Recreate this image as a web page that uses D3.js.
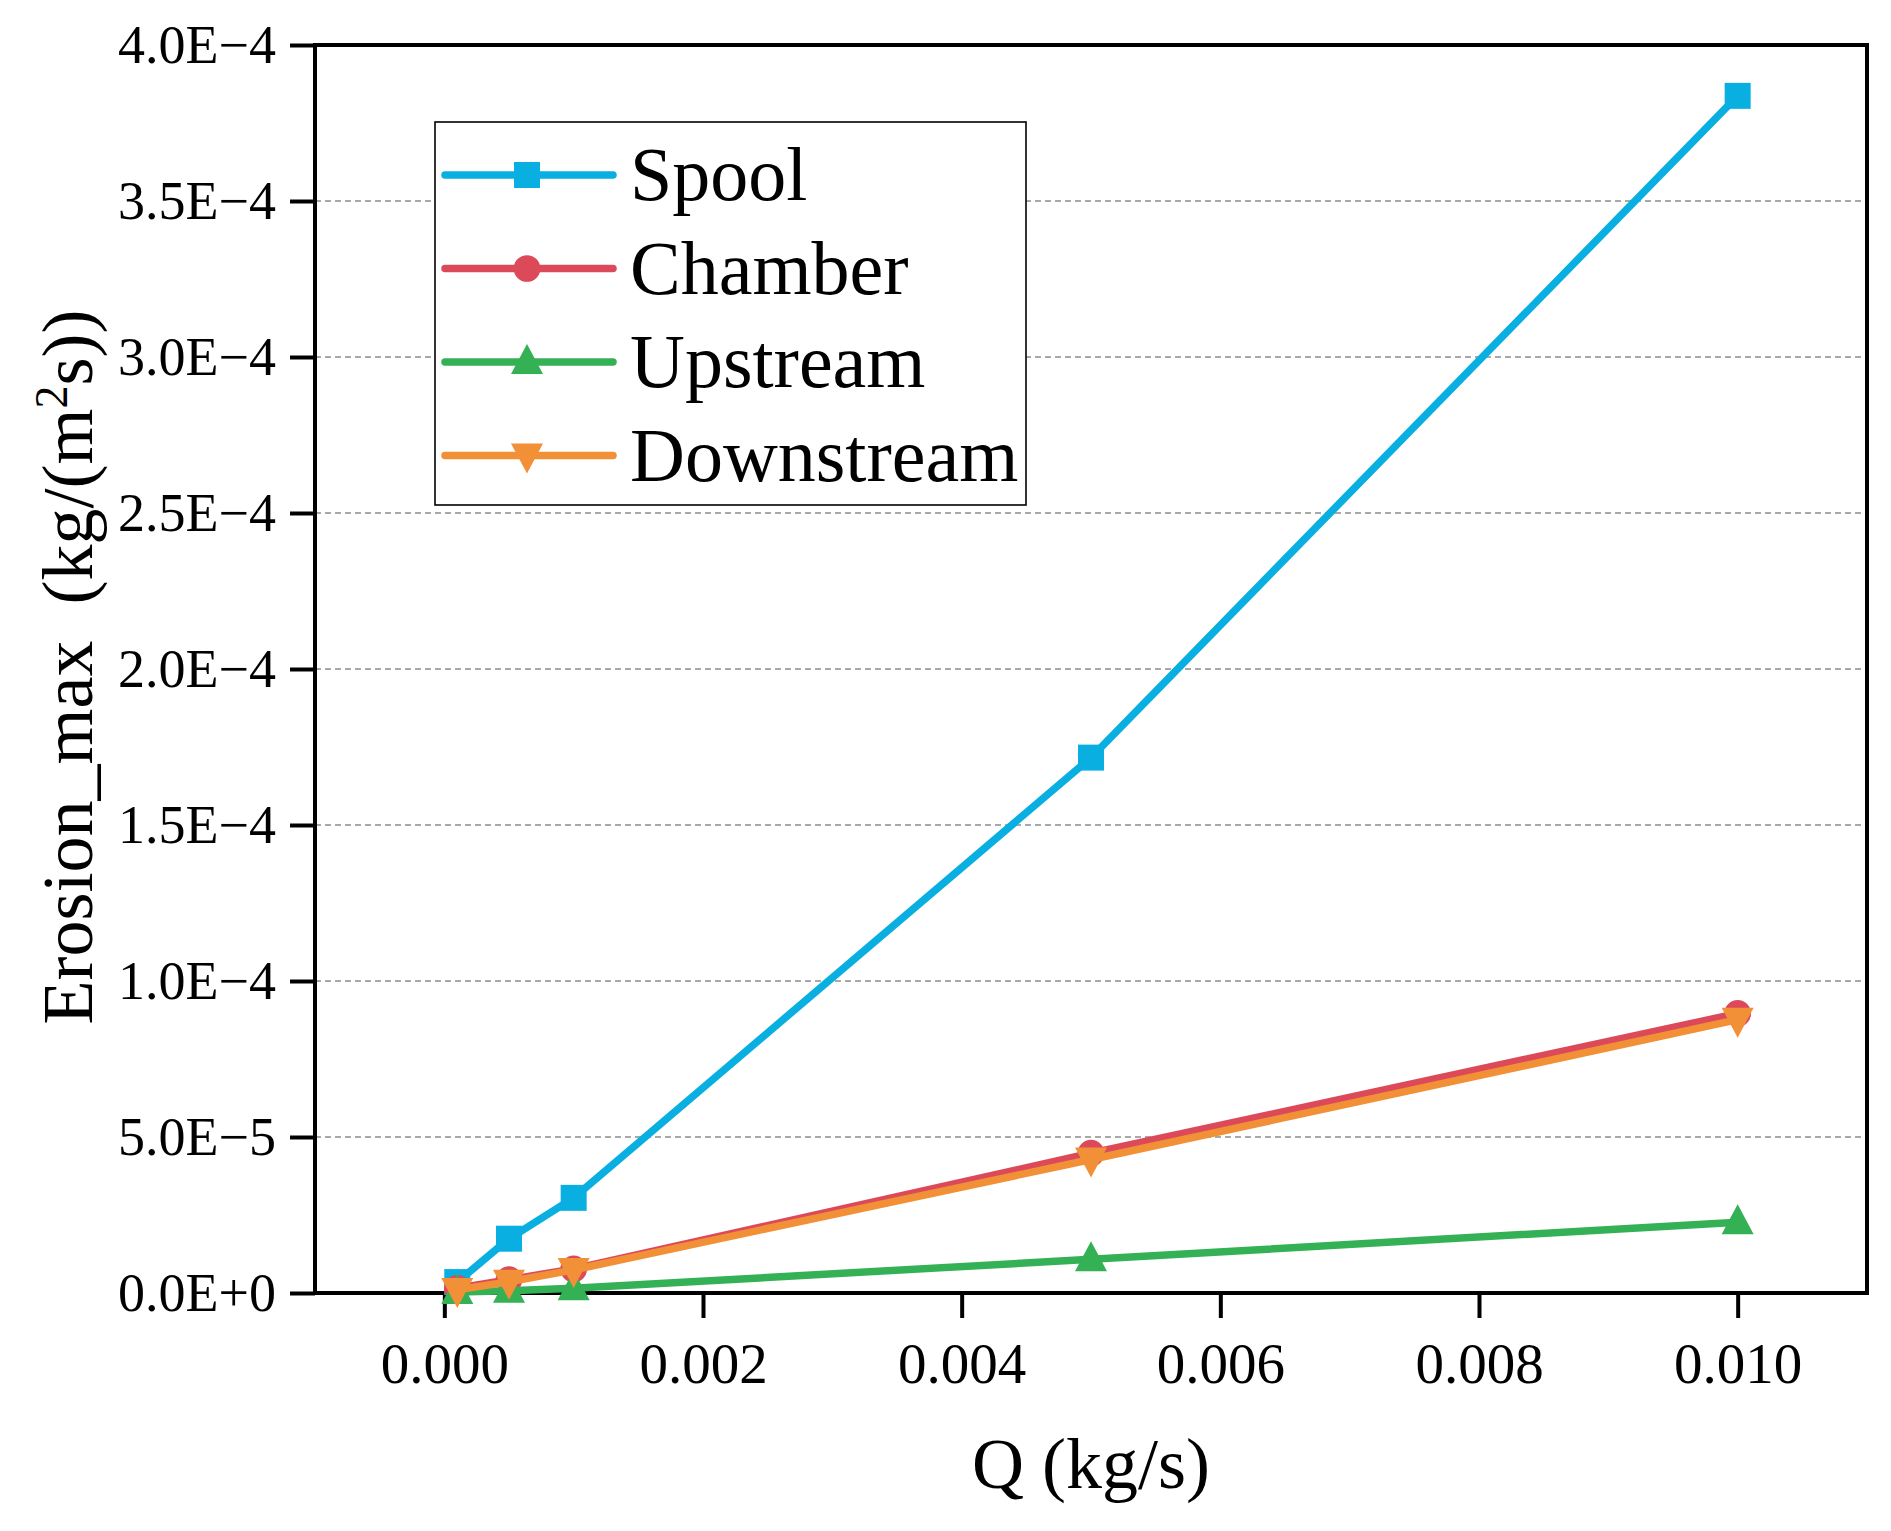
<!DOCTYPE html>
<html>
<head>
<meta charset="utf-8">
<script src="https://cdn.jsdelivr.net/npm/d3@7"></script>
<style>
  body { margin: 0; background: #fff; }
  svg { display: block; font-family: "Liberation Serif", "Times New Roman", serif; }
</style>
</head>
<body>
<div id="container"></div>
<script>
// data
const flows = [0.0001, 0.0005, 0.001, 0.005, 0.01]
const spool = [3.5e-6, 1.74e-5, 3.05e-5, 1.716e-4, 3.837e-4]
const chamber = [1.5e-6, 4.3e-6, 7.7e-6, 4.48e-5, 8.96e-5]
const upstream = [3e-7, 7e-7, 1.5e-6, 1.08e-5, 2.27e-5]
const downstream = [1.0e-6, 3.6e-6, 7.4e-6, 4.28e-5, 8.76e-5]
const seriesNames = ["Spool", "Chamber", "Upstream", "Downstream"]
const xTicks = [0, 0.002, 0.004, 0.006, 0.008, 0.01]
const yTicks = [0, 5e-5, 1e-4, 1.5e-4, 2e-4, 2.5e-4, 3e-4, 3.5e-4, 4e-4]
const yTickLabels = ["0.0E+0", "5.0E\u22125", "1.0E\u22124", "1.5E\u22124", "2.0E\u22124",
                     "2.5E\u22124", "3.0E\u22124", "3.5E\u22124", "4.0E\u22124"]

const colors = ["#0aafe1", "#dc4a5a", "#35b155", "#f19036"]
const markers = ["square", "circle", "up", "down"]
const serif = "'Liberation Serif', 'Times New Roman', serif"

main()

function main() {
    const width = 1891
    const height = 1531
    const marginTop = 45
    const marginRight = 24
    const marginBottom = 238
    const marginLeft = 315

    const x = d3.scaleLinear()
        .domain([-0.001, 0.011])
        .range([marginLeft, width - marginRight])

    const y = d3.scaleLinear()
        .domain([0, 4e-4])
        .range([height - marginBottom, marginTop])

    const svg = d3.create("svg")
        .attr("width", width)
        .attr("height", height)

    svg.append("rect")
        .attr("width", width)
        .attr("height", height)
        .attr("fill", "#fff")

    // dashed grid lines
    svg.append("g")
        .selectAll("line")
        .data(yTicks.filter(d => d > 0 && d < 4e-4))
        .join("line")
        .attr("x1", marginLeft)
        .attr("x2", width - marginRight)
        .attr("y1", d => y(d))
        .attr("y2", d => y(d))
        .attr("stroke", "#8c8c8c")
        .attr("stroke-width", 1.6)
        .attr("stroke-dasharray", "6,4")

    // axes
    const xAxis = svg.append("g")
        .attr("transform", `translate(0,${height - marginBottom})`)
        .call(d3.axisBottom(x).tickValues(xTicks).tickFormat(d3.format(".3f")).tickSize(25).tickPadding(25))
    xAxis.attr("font-family", serif)
    xAxis.select(".domain").remove()
    xAxis.selectAll(".tick line").attr("stroke", "#000").attr("stroke-width", 4)
    xAxis.selectAll(".tick text")
        .attr("fill", "#000")
        .style("font-size", "57px")

    const yAxis = svg.append("g")
        .attr("transform", `translate(${marginLeft},0)`)
        .call(d3.axisLeft(y).tickValues(yTicks).tickFormat((d, i) => yTickLabels[i]).tickSize(25).tickPadding(14))
    yAxis.attr("font-family", serif)
    yAxis.select(".domain").remove()
    yAxis.selectAll(".tick line").attr("stroke", "#000").attr("stroke-width", 4)
    yAxis.selectAll(".tick text")
        .attr("fill", "#000")
        .style("font-size", "54px")

    // frame
    svg.append("rect")
        .attr("x", marginLeft)
        .attr("y", marginTop)
        .attr("width", width - marginLeft - marginRight)
        .attr("height", height - marginTop - marginBottom)
        .attr("fill", "none")
        .attr("stroke", "#000")
        .attr("stroke-width", 4)

    const allSeries = [spool, chamber, upstream, downstream]
    const line = d3.line()
        .x((d, i) => x(flows[i]))
        .y(d => y(d))

    allSeries.forEach((values, k) => {
        const g = svg.append("g")
        g.append("path")
            .datum(values)
            .attr("d", line)
            .attr("fill", "none")
            .attr("stroke", colors[k])
            .attr("stroke-width", 7.5)
            .attr("stroke-linejoin", "round")
        g.selectAll("path.marker")
            .data(values)
            .join("path")
            .attr("class", "marker")
            .attr("d", markerPath(markers[k]))
            .attr("transform", (d, i) => `translate(${x(flows[i])},${y(d)})`)
            .attr("fill", colors[k])
    })

    // legend
    const legend = svg.append("g")
    legend.append("rect")
        .attr("x", 435)
        .attr("y", 122)
        .attr("width", 591)
        .attr("height", 383)
        .attr("fill", "#fff")
        .attr("stroke", "#000")
        .attr("stroke-width", 1.6)
    seriesNames.forEach((name, k) => {
        const cy = 175 + k * 93.5
        legend.append("line")
            .attr("x1", 445)
            .attr("x2", 613)
            .attr("y1", cy)
            .attr("y2", cy)
            .attr("stroke", colors[k])
            .attr("stroke-width", 7.5)
            .attr("stroke-linecap", "round")
        legend.append("path")
            .attr("d", markerPath(markers[k]))
            .attr("transform", `translate(527,${cy})`)
            .attr("fill", colors[k])
        legend.append("text")
            .attr("x", 630)
            .attr("y", cy + 25)
            .style("font-size", "76px")
            .attr("fill", "#000")
            .text(name)
    })

    // axis titles
    svg.append("text")
        .attr("x", (marginLeft + width - marginRight) / 2)
        .attr("y", 1488)
        .attr("text-anchor", "middle")
        .style("font-size", "72px")
        .text("Q (kg/s)")

    const yTitle = svg.append("text")
        .attr("transform", `translate(92,${(marginTop + height - marginBottom) / 2 - 2}) rotate(-90)`)
        .attr("text-anchor", "middle")
        .style("font-size", "72px")
        .style("white-space", "pre")
    yTitle.append("tspan").text("Erosion_max  (kg/(m")
    yTitle.append("tspan").attr("baseline-shift", "super").style("font-size", "46px").text("2")
    yTitle.append("tspan").text("s))")

    document.getElementById("container").append(svg.node())
}

function markerPath(kind) {
    if (kind === "square") {
        return "M-13,-13H13V13H-13Z"
    }
    if (kind === "circle") {
        return d3.symbol(d3.symbolCircle, 560)()
    }
    if (kind === "up") {
        return "M0,-18L16,12H-16Z"
    }
    return "M0,18L16,-12H-16Z"
}
</script>
</body>
</html>
